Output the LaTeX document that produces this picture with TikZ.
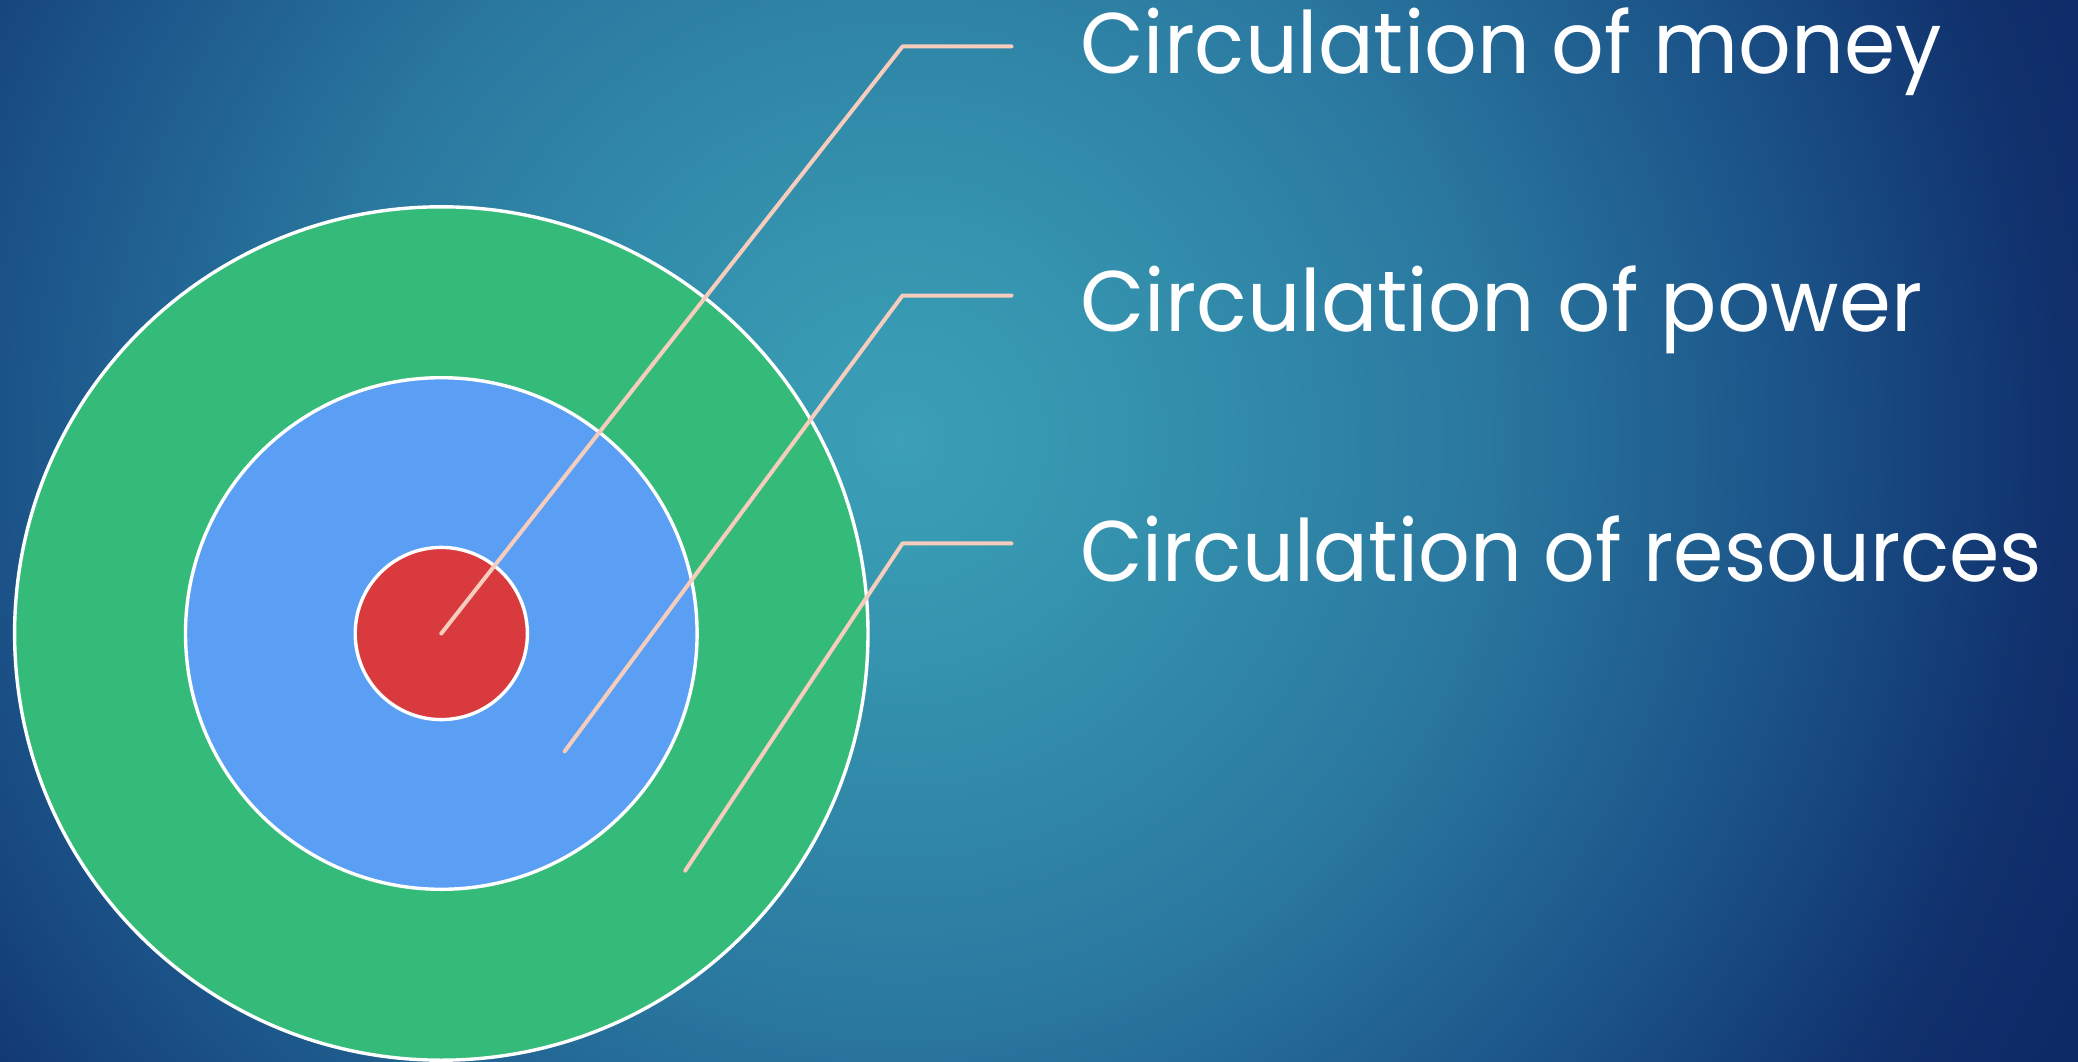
\documentclass[tikz,border=0pt]{standalone}
\usepackage{fontspec}
\setmainfont{Poppins}
\usepackage{graphicx}
\definecolor{bgA}{HTML}{3CA0B7}
\definecolor{bgB}{HTML}{3594AF}
\definecolor{bgC}{HTML}{2A78A0}
\definecolor{bgD}{HTML}{1B5388}
\definecolor{bgE}{HTML}{10306C}
\definecolor{bgF}{HTML}{0D2966}
\definecolor{ringgreen}{HTML}{34BB7A}
\definecolor{ringblue}{HTML}{5A9FF3}
\definecolor{ringred}{HTML}{D93A3E}
\definecolor{leader}{HTML}{F6CDBC}
\pgfdeclareradialshading{bgshade}{\pgfpoint{0bp}{0bp}}{color(0bp)=(bgA); color(4bp)=(bgB); color(11bp)=(bgC); color(17bp)=(bgD); color(22bp)=(bgE); color(25bp)=(bgF); color(50bp)=(bgF)}
\begin{document}
\begin{tikzpicture}[x=1pt,y=-1pt,
  ring/.style={circle, draw=white, line width=3.4pt, inner sep=0pt},
  leaderline/.style={draw=leader, line width=4pt, line cap=round, line join=round},
  label/.style={anchor=base west, inner sep=0pt, text=white, font=\fontsize{86}{100}\selectfont}]
\useasboundingbox (0,0) rectangle (2078,1062);
\begin{scope}
  \clip (0,0) rectangle (2078,1062);
  \fill[bgF] (0,0) rectangle (2078,1062);
  \shade[shading=bgshade] (900,440) circle (1320);
\end{scope}
% rings
\node[ring, fill=ringgreen, minimum size=853.4pt] (outer) at (441.3,633.5) {};
\node[ring, fill=ringblue, minimum size=511.6pt] (middle) at (441.3,633.5) {};
\node[ring, fill=ringred, minimum size=172.2pt] (inner) at (441.3,633.5) {};
% leader end points
\coordinate (mA) at (441.3,633.5);
\coordinate (mB) at (902.5,46.4);
\coordinate (mC) at (1011.5,46.4);
\coordinate (pA) at (564.6,751.4);
\coordinate (pB) at (902.5,295.5);
\coordinate (pC) at (1011.5,295.5);
\coordinate (rA) at (685.2,870.7);
\coordinate (rB) at (902.5,543.4);
\coordinate (rC) at (1011.5,543.4);
\draw[leaderline] (mA) -- (mB) -- (mC);
\draw[leaderline] (pA) -- (pB) -- (pC);
\draw[leaderline] (rA) -- (rB) -- (rC);
% labels
\node[label] (money) at (1080,74) {\resizebox{862pt}{\height}{Circulation of money}};
\node[label] (power) at (1080,331) {\resizebox{842pt}{\height}{Circulation of power}};
\node[label] (resources) at (1080,581) {\resizebox{962pt}{\height}{Circulation of resources}};
\end{tikzpicture}
\end{document}
